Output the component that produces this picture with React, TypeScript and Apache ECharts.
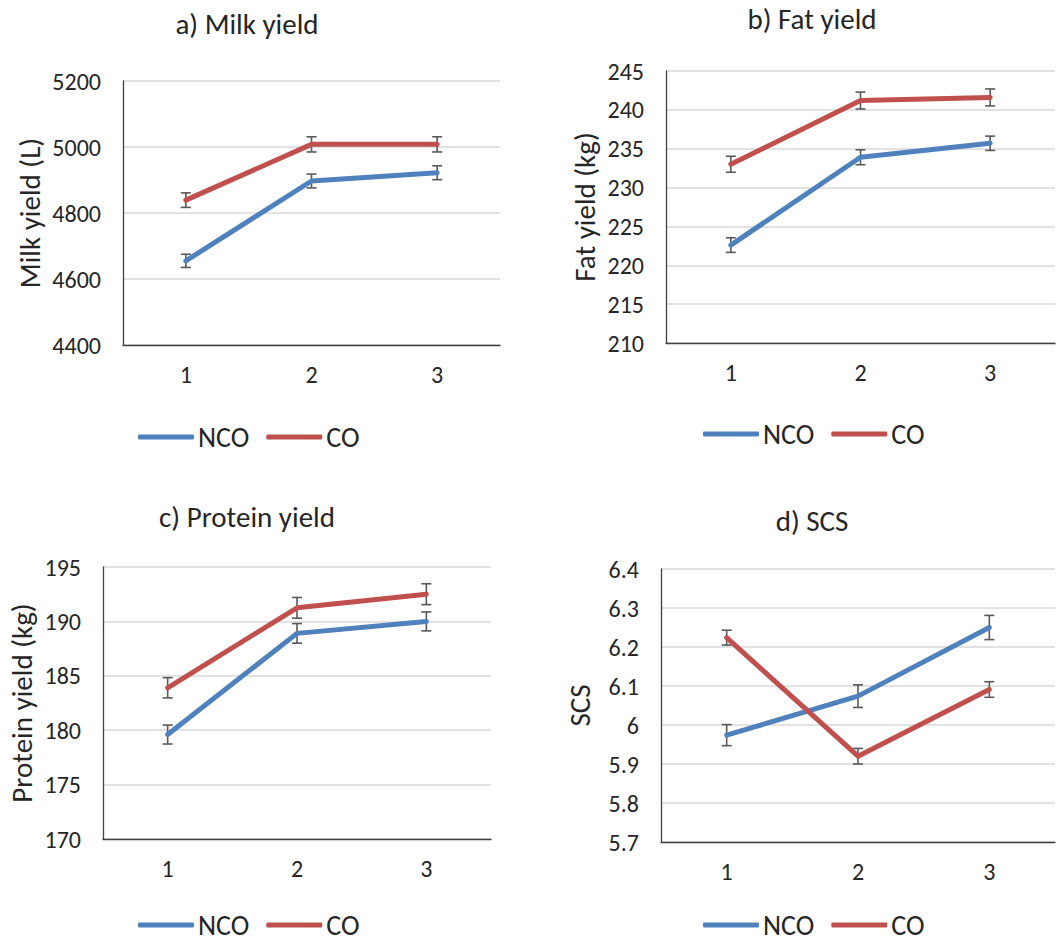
import React, { useEffect, useRef } from "react";
import * as echarts from "echarts";

const categories = ["1", "2", "3"];

const milkNCO = [4655, 4897, 4922];
const milkCO = [4839, 5008, 5008];
const milkNCOErr = [20, 21, 21];
const milkCOErr = [22, 23, 23];

const fatNCO = [222.6, 233.9, 235.7];
const fatCO = [233.0, 241.2, 241.6];
const fatNCOErr = [0.94, 0.96, 0.92];
const fatCOErr = [1.03, 1.09, 1.09];

const protNCO = [179.6, 188.9, 190.0];
const protCO = [183.9, 191.25, 192.5];
const protNCOErr = [0.87, 0.9, 0.87];
const protCOErr = [0.93, 0.95, 0.96];

const scsNCO = [5.974, 6.074, 6.25];
const scsCO = [6.224, 5.92, 6.091];
const scsNCOErr = [0.027, 0.029, 0.031];
const scsCOErr = [0.019, 0.02, 0.02];

const panelTitles = ["a) Milk yield", "b) Fat yield", "c) Protein yield", "d) SCS"];
const yNames = ["Milk yield (L)", "Fat yield (kg)", "Protein yield (kg)", "SCS"];
const yMin = [4400, 210, 170, 5.7];
const yMax = [5200, 245, 195, 6.4];
const yInterval = [200, 5, 5, 0.1];

const FONT = "Carlito, Calibri, Lato, sans-serif";
const TEXT = "#262626";
const BLUE = "#4F81BD";
const RED = "#C0504D";

const grids = [
  { left: 123, top: 81, width: 377, height: 264 },
  { left: 666, top: 71, width: 389, height: 272 },
  { left: 103, top: 567, width: 388, height: 272 },
  { left: 661, top: 569, width: 394, height: 273 },
];
const nameGaps = [79, 67, 67, 67];
const titlePos = [
  [247, 24],
  [812, 19],
  [247, 517],
  [812, 521],
];
const legendPos = [
  [138, 435],
  [703, 432],
  [138, 923],
  [703, 923],
];

export default function App() {
  const ref = useRef<HTMLDivElement>(null);
  useEffect(() => {
    if (!ref.current) return;
    const chart = echarts.init(ref.current, null, { renderer: "svg" });

    const lineData = [
      [milkNCO, milkCO],
      [fatNCO, fatCO],
      [protNCO, protCO],
      [scsNCO, scsCO],
    ];
    const errData = [
      [milkNCOErr, milkCOErr],
      [fatNCOErr, fatCOErr],
      [protNCOErr, protCOErr],
      [scsNCOErr, scsCOErr],
    ];

    const xAxis = grids.map((_, i) => ({
      type: "category",
      gridIndex: i,
      data: categories,
      boundaryGap: true,
      axisTick: { show: false },
      axisLine: { show: true, lineStyle: { color: "#404040", width: 1.3 } },
      axisLabel: { color: TEXT, fontSize: 24, fontFamily: FONT, margin: 17 },
      splitLine: { show: false },
    }));

    const yAxis = grids.map((_, i) => ({
      type: "value",
      gridIndex: i,
      min: yMin[i],
      max: yMax[i],
      interval: yInterval[i],
      name: yNames[i],
      nameLocation: "middle",
      nameGap: nameGaps[i],
      nameTextStyle: { color: TEXT, fontSize: 29, fontFamily: FONT },
      axisTick: { show: false },
      axisLine: { show: true, lineStyle: { color: "#404040", width: 1.3 } },
      axisLabel: {
        color: TEXT,
        fontSize: 24,
        fontFamily: FONT,
        margin: 22,
        formatter: (v: number) => String(Math.round(v * 100) / 100),
      },
      splitLine: { show: true, lineStyle: { color: "#d9d9d9", width: 1.5 } },
    }));

    const series: any[] = [];
    const names = ["NCO", "CO"];
    const colors = [BLUE, RED];
    for (let i = 0; i < 4; i++) {
      for (let s = 0; s < 2; s++) {
        const vals = lineData[i][s];
        const errs = errData[i][s];
        series.push({
          type: "custom",
          name: names[s] + " error",
          xAxisIndex: i,
          yAxisIndex: i,
          z: 1,
          silent: true,
          data: vals.map((v, k) => [k, v - errs[k], v + errs[k]]),
          renderItem: (params: any, api: any) => {
            const x = api.value(0);
            const lo = api.coord([x, api.value(1)]);
            const hi = api.coord([x, api.value(2)]);
            const hw = 5;
            const style = { stroke: "#595959", lineWidth: 1.6 };
            return {
              type: "group",
              children: [
                { type: "line", shape: { x1: lo[0], y1: lo[1], x2: hi[0], y2: hi[1] }, style },
                { type: "line", shape: { x1: lo[0] - hw, y1: lo[1], x2: lo[0] + hw, y2: lo[1] }, style },
                { type: "line", shape: { x1: hi[0] - hw, y1: hi[1], x2: hi[0] + hw, y2: hi[1] }, style },
              ],
            };
          },
        });
        series.push({
          type: "line",
          name: names[s],
          xAxisIndex: i,
          yAxisIndex: i,
          z: 2,
          data: vals,
          symbol: "none",
          color: colors[s],
          lineStyle: { color: colors[s], width: 5, cap: "round", join: "round" },
        });
      }
    }

    const legend = legendPos.map(([x, y]) => ({
      left: x,
      top: y - 12,
      padding: 0,
      data: ["NCO", "CO"],
      icon: "roundRect",
      itemWidth: 56,
      itemHeight: 5,
      itemGap: 17,
      textStyle: {
        color: TEXT,
        fontSize: 28,
        lineHeight: 24,
        fontFamily: FONT,
        padding: [0, 0, 0, -1],
      },
    }));

    const graphic = titlePos.map(([x, y], i) => ({
      type: "text",
      x,
      y,
      style: {
        text: panelTitles[i],
        fill: TEXT,
        font: `29px ${FONT}`,
        align: "center",
        verticalAlign: "middle",
      },
    }));

    chart.setOption({
      animation: false,
      backgroundColor: "#ffffff",
      grid: grids,
      xAxis,
      yAxis,
      series,
      legend,
      graphic,
    });
    return () => chart.dispose();
  }, []);

  return (
    <div
      ref={ref}
      style={{ position: "absolute", left: 0, top: 0, width: 1060, height: 941 }}
    />
  );
}
